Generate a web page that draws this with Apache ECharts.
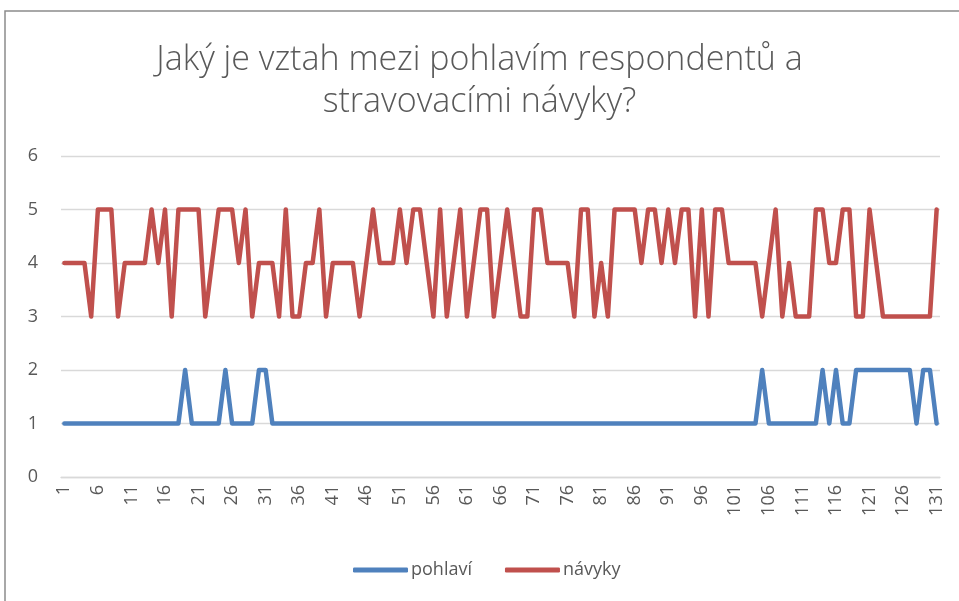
<html>
<head>
	<title>graf</title>
	<meta charset="UTF-8" />
	<style>
		body { margin: 0; background: #fff; }
	</style>
</head>
<body>
<div id="main" style="width: 959px;height:601px;"></div>

<script type="text/javascript" src="https://cdn.jsdelivr.net/npm/echarts@6/dist/echarts.min.js"></script>
<script type="text/javascript">

var titleText = 'Jaký je vztah mezi pohlavím respondentů a\nstravovacími návyky?';
var seriesNames = ['pohlaví', 'návyky'];

// respondent 1..131
var categories = [];
for (var i = 1; i <= 131; i++) {
    categories.push(String(i));
}

var pohlavi = [
    1,1,1,1,1,1,1,1,1,1,
    1,1,1,1,1,1,1,1,2,1,
    1,1,1,1,2,1,1,1,1,2,
    2,1,1,1,1,1,1,1,1,1,
    1,1,1,1,1,1,1,1,1,1,
    1,1,1,1,1,1,1,1,1,1,
    1,1,1,1,1,1,1,1,1,1,
    1,1,1,1,1,1,1,1,1,1,
    1,1,1,1,1,1,1,1,1,1,
    1,1,1,1,1,1,1,1,1,1,
    1,1,1,1,2,1,1,1,1,1,
    1,1,1,2,1,2,1,1,2,2,
    2,2,2,2,2,2,2,1,2,2,
    1
];

var navyky = [
    4,4,4,4,3,5,5,5,3,4,
    4,4,4,5,4,5,3,5,5,5,
    5,3,4,5,5,5,4,5,3,4,
    4,4,3,5,3,3,4,4,5,3,
    4,4,4,4,3,4,5,4,4,4,
    5,4,5,5,4,3,5,3,4,5,
    3,4,5,5,3,4,5,4,3,3,
    5,5,4,4,4,4,3,5,5,3,
    4,3,5,5,5,5,4,5,5,4,
    5,4,5,5,3,5,3,5,5,4,
    4,4,4,4,3,4,5,3,4,3,
    3,3,5,5,4,4,5,5,3,3,
    5,4,3,3,3,3,3,3,3,3,
    5
];

var myChart = echarts.init(document.getElementById('main'));

var option = {
    backgroundColor: '#ffffff',
    animation: false,
    graphic: [
        {
            type: 'rect',
            shape: { x: 5, y: 11, width: 1000, height: 1000 },
            style: { fill: 'none', stroke: '#8c8c8c', lineWidth: 1.5 }
        }
    ],
    title: {
        text: titleText,
        left: 'center',
        top: 34,
        textStyle: {
            fontFamily: 'Open Sans',
            fontWeight: 300,
            fontSize: 34,
            lineHeight: 42,
            color: '#595959'
        }
    },
    legend: {
        data: seriesNames,
        left: 348,
        top: 556,
        icon: 'roundRect',
        itemWidth: 55,
        itemHeight: 5,
        itemGap: 33,
        textStyle: {
            fontFamily: 'Open Sans',
            fontSize: 18,
            color: '#595959',
            padding: [0, 0, 0, -2]
        }
    },
    grid: {
        left: 61,
        top: 156,
        width: 879,
        height: 321
    },
    xAxis: {
        type: 'category',
        boundaryGap: true,
        data: categories,
        axisLine: { lineStyle: { color: '#d9d9d9', width: 1.3 } },
        axisTick: { show: false },
        axisLabel: {
            rotate: 90,
            interval: 4,
            margin: 8,
            fontFamily: 'Open Sans',
            fontSize: 18,
            color: '#595959'
        }
    },
    yAxis: {
        type: 'value',
        min: 0,
        max: 6,
        interval: 1,
        axisLine: { show: false },
        axisTick: { show: false },
        splitLine: { lineStyle: { color: '#d9d9d9', width: 1.3 } },
        axisLabel: {
            margin: 23,
            fontFamily: 'Open Sans',
            fontSize: 18,
            color: '#595959'
        }
    },
    series: [
        {
            name: seriesNames[0],
            type: 'line',
            data: pohlavi,
            showSymbol: false,
            color: '#4f81bd',
            lineStyle: { width: 4.5, color: '#4f81bd', cap: 'round', join: 'round' }
        },
        {
            name: seriesNames[1],
            type: 'line',
            data: navyky,
            showSymbol: false,
            color: '#c0504d',
            lineStyle: { width: 4.5, color: '#c0504d', cap: 'round', join: 'round' }
        }
    ]
};

myChart.setOption(option);
</script>
</body>
</html>
